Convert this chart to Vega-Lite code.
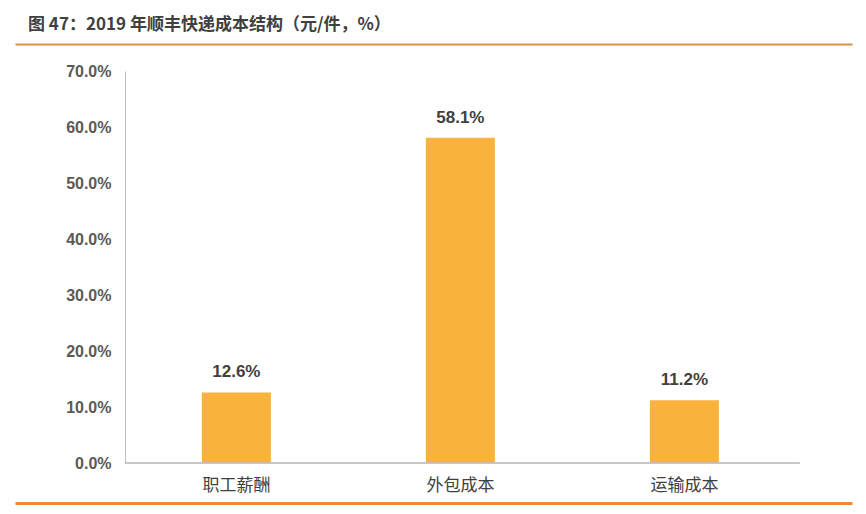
{
  "$schema": "https://vega.github.io/schema/vega-lite/v6.json",
  "background": "white",
  "autosize": {"type": "none"},
  "padding": {"left": 15, "top": 71, "right": 14, "bottom": 51},
  "width": 837,
  "height": 392,
  "title": {
    "text": "图 47：2019 年顺丰快递成本结构（元/件，%）",
    "anchor": "start",
    "frame": "group",
    "dx": 13,
    "offset": 10,
    "font": "Noto Sans CJK SC",
    "fontSize": 17,
    "fontWeight": "bold",
    "color": "#404040"
  },
  "config": {"view": {"stroke": null}},
  "data": {
    "values": [
      {"category": "职工薪酬", "share": 0.126},
      {"category": "外包成本", "share": 0.581},
      {"category": "运输成本", "share": 0.112}
    ]
  },
  "encoding": {
    "y": {
      "field": "share",
      "type": "quantitative",
      "scale": {"domain": [0, 0.7], "nice": false},
      "axis": {
        "title": null,
        "values": [0, 0.1, 0.2, 0.3, 0.4, 0.5, 0.6, 0.7],
        "format": ".1%",
        "offset": -110,
        "grid": false,
        "ticks": false,
        "domainColor": "#BFBFBF",
        "labelPadding": 14,
        "labelFont": "Liberation Sans",
        "labelFontSize": 16,
        "labelFontWeight": "bold",
        "labelColor": "#595959"
      }
    }
  },
  "resolve": {"axis": {"x": "independent"}},
  "layer": [
    {
      "mark": {"type": "bar", "color": "#F9B23C"},
      "encoding": {
        "x": {
          "field": "category",
          "type": "nominal",
          "sort": null,
          "scale": {"paddingInner": 0.692, "paddingOuter": 0.7143, "align": 0.584},
          "axis": {
            "title": null,
            "orient": "bottom",
            "offset": 40,
            "labelAngle": 0,
            "ticks": false,
            "domainColor": "#F0883A",
            "domainWidth": 3,
            "labelPadding": -26,
            "labelFont": "Noto Sans CJK SC",
            "labelFontSize": 17,
            "labelColor": "#404040"
          }
        }
      }
    },
    {
      "mark": {
        "type": "text",
        "baseline": "bottom",
        "dy": -11,
        "font": "Liberation Sans",
        "fontSize": 17,
        "fontWeight": "bold",
        "color": "#404040"
      },
      "encoding": {
        "x": {
          "field": "category",
          "type": "nominal",
          "sort": null,
          "axis": {
            "title": null,
            "orient": "top",
            "offset": 27,
            "labels": false,
            "ticks": false,
            "domainColor": "#D98F4E",
            "domainWidth": 2
          }
        },
        "text": {"field": "share", "type": "quantitative", "format": ".1%"}
      }
    },
    {
      "mark": {"type": "rule", "color": "#BFBFBF", "strokeWidth": 1},
      "encoding": {
        "x": {"datum": "职工薪酬", "type": "nominal", "bandPosition": -1.116, "axis": null},
        "x2": {"datum": "运输成本", "bandPosition": 2.174},
        "y": {"datum": 0}
      }
    }
  ]
}
